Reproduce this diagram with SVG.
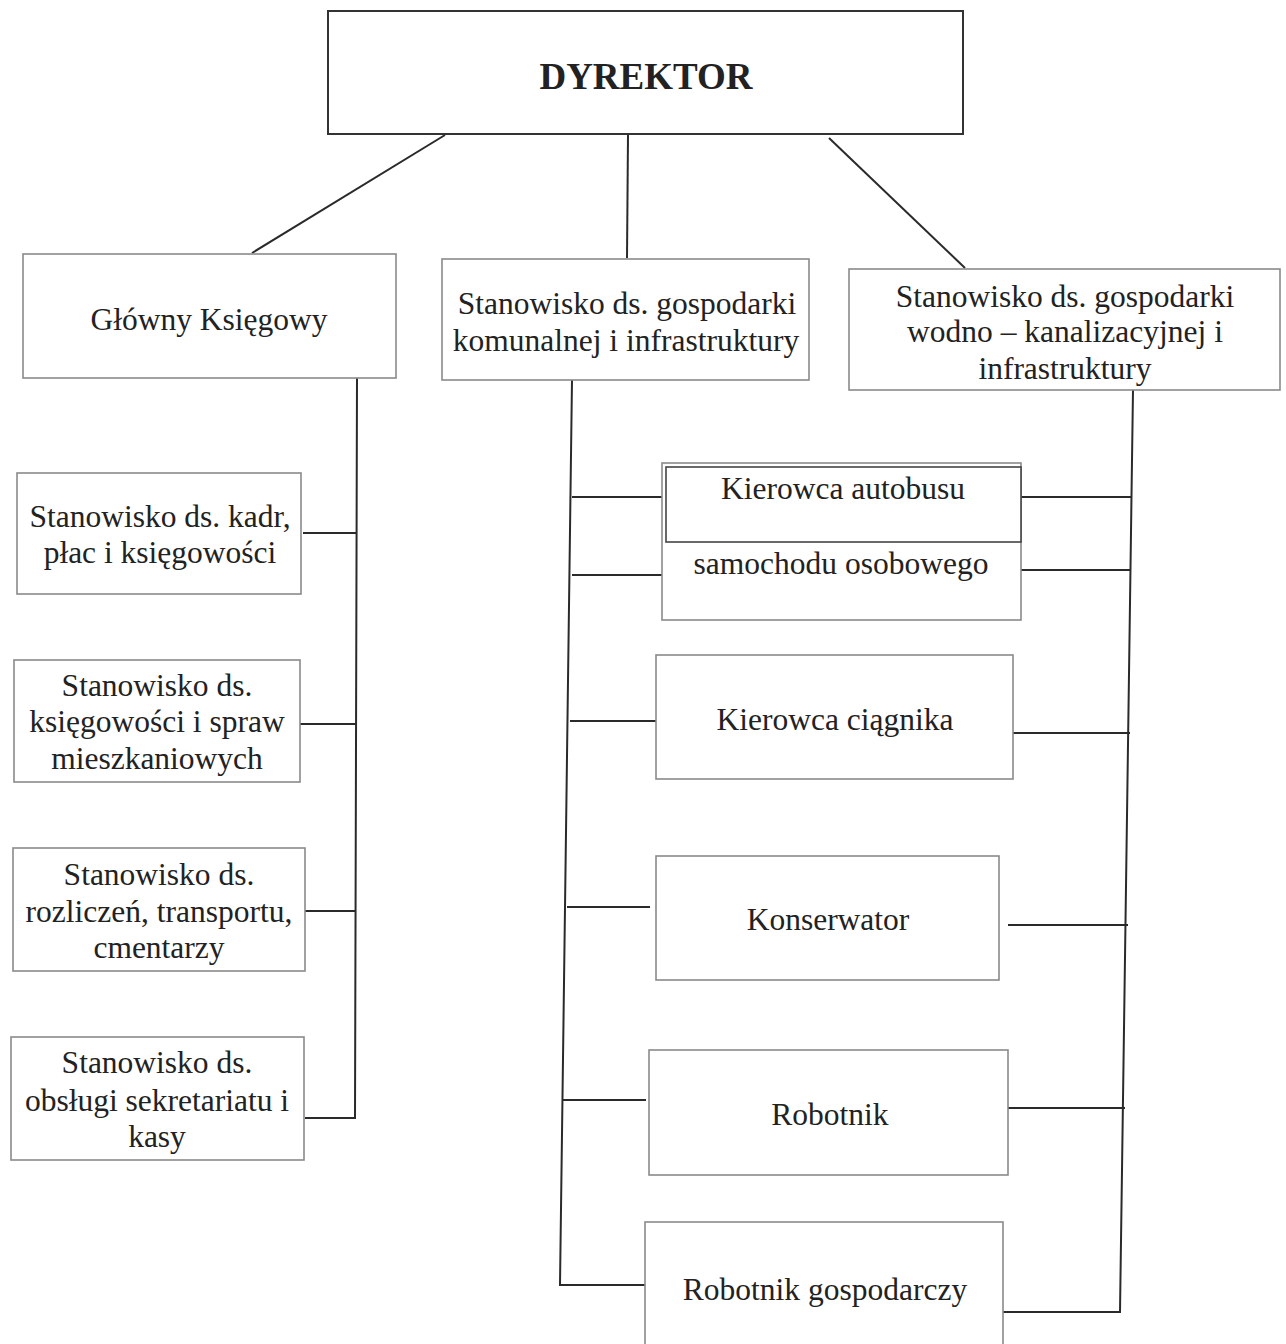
<svg xmlns="http://www.w3.org/2000/svg" width="1286" height="1344" viewBox="0 0 1286 1344">
<style>
.box{fill:#fff;stroke:#8a8a8a;stroke-width:1.6}
.dark{fill:none;stroke:#333;stroke-width:2}
.t{font-family:"Liberation Serif","Times New Roman",serif;font-size:31.5px;fill:#222;text-anchor:middle}
.b{font-weight:bold;font-size:37px}
#connectors path{fill:none;stroke:#2a2a2a;stroke-width:2}
</style>
<rect width="1286" height="1344" fill="#fff"/>
<g id="connectors">
<path d="M445 135 L252 253"/>
<path d="M628 135 L627 258"/>
<path d="M829 138 L965 268"/>
<path d="M357 378 L355 1118 L305 1118"/>
<path d="M303 533 L357 533"/>
<path d="M300 724 L356 724"/>
<path d="M305 911 L356 911"/>
<path d="M572 380 L560 1285 L645 1285"/>
<path d="M572 497 L666 497"/>
<path d="M572 575 L666 575"/>
<path d="M570 721 L656 721"/>
<path d="M567 907 L650 907"/>
<path d="M563 1100 L646 1100"/>
<path d="M1133 390 L1120 1312 L1003 1312"/>
<path d="M1020 497 L1132 497"/>
<path d="M1020 570 L1131 570"/>
<path d="M1013 733 L1130 733"/>
<path d="M1008 925 L1128 925"/>
<path d="M1008 1108 L1125 1108"/>
</g>
<g id="dyrektor">
<rect x="328" y="11" width="635" height="123" class="dark" fill="#fff"/>
<text x="646" y="89" class="t b">DYREKTOR</text>
</g>
<g id="glowny-ksiegowy">
<rect x="23" y="254" width="373" height="124" class="box"/>
<text x="209" y="330" class="t">Główny Księgowy</text>
</g>
<g id="komunalnej">
<rect x="442" y="259" width="367" height="121" class="box"/>
<text x="627" y="314" class="t">Stanowisko ds. gospodarki</text>
<text x="626" y="351" class="t">komunalnej i infrastruktury</text>
</g>
<g id="wodno">
<rect x="849" y="269" width="431" height="121" class="box"/>
<text x="1065" y="307" class="t">Stanowisko ds. gospodarki</text>
<text x="1065" y="342" class="t">wodno – kanalizacyjnej i</text>
<text x="1065" y="379" class="t">infrastruktury</text>
</g>
<g id="kadr">
<rect x="17" y="473" width="284" height="121" class="box"/>
<text x="160" y="527" class="t">Stanowisko ds. kadr,</text>
<text x="160" y="563" class="t">płac i księgowości</text>
</g>
<g id="mieszkaniowych">
<rect x="14" y="660" width="286" height="122" class="box"/>
<text x="157" y="696" class="t">Stanowisko ds.</text>
<text x="157" y="732" class="t">księgowości i spraw</text>
<text x="157" y="769" class="t">mieszkaniowych</text>
</g>
<g id="rozliczen">
<rect x="13" y="848" width="292" height="123" class="box"/>
<text x="159" y="885" class="t">Stanowisko ds.</text>
<text x="159" y="922" class="t">rozliczeń, transportu,</text>
<text x="159" y="958" class="t">cmentarzy</text>
</g>
<g id="sekretariatu">
<rect x="11" y="1037" width="293" height="123" class="box"/>
<text x="157" y="1073" class="t">Stanowisko ds.</text>
<text x="157" y="1111" class="t">obsługi sekretariatu i</text>
<text x="157" y="1147" class="t">kasy</text>
</g>
<g id="kierowca-autobusu">
<rect x="662" y="463" width="359" height="157" class="box"/>
<rect x="666" y="467" width="355" height="75" fill="#fff" stroke="#444" stroke-width="1.6"/>
<text x="843" y="499" class="t">Kierowca autobusu</text>
<text x="841" y="574" class="t">samochodu osobowego</text>
</g>
<g id="kierowca-ciagnika">
<rect x="656" y="655" width="357" height="124" class="box"/>
<text x="835" y="730" class="t">Kierowca ciągnika</text>
</g>
<g id="konserwator">
<rect x="656" y="856" width="343" height="124" class="box"/>
<text x="828" y="930" class="t">Konserwator</text>
</g>
<g id="robotnik">
<rect x="649" y="1050" width="359" height="125" class="box"/>
<text x="830" y="1125" class="t">Robotnik</text>
</g>
<g id="robotnik-gospodarczy">
<rect x="645" y="1222" width="358" height="130" class="box"/>
<text x="825" y="1300" class="t">Robotnik gospodarczy</text>
</g>
</svg>
